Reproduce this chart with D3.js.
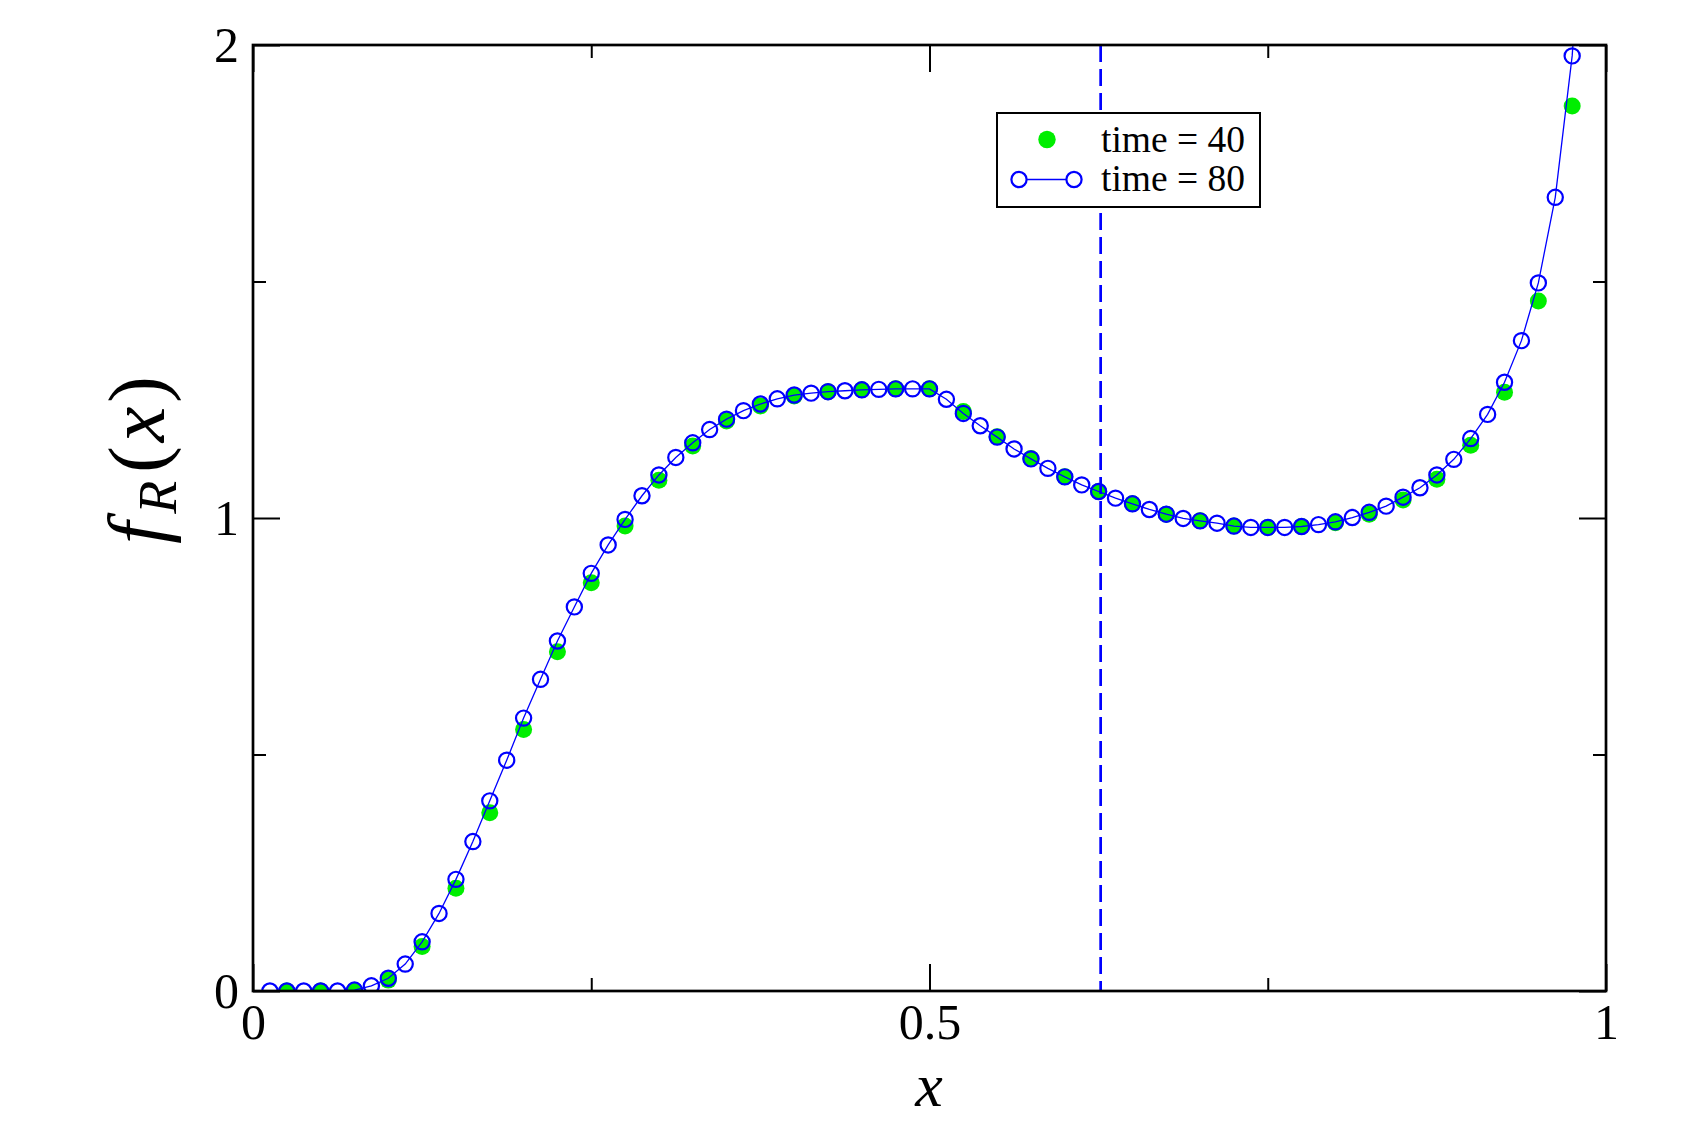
<!DOCTYPE html>
<html>
<head>
<meta charset="utf-8">
<script src="https://cdn.jsdelivr.net/npm/d3@7"></script>
<style>
  html, body { margin: 0; padding: 0; background: #fff; }
  svg { display: block; }
</style>
</head>
<body>
<svg id="chart" width="1704" height="1124"></svg>
<script>
// ---- data ----
// time = 80 : x = k/80, k = 1..79 (last point lies above the plot and is clipped)
const xTime80 = d3.range(1, 80).map(k => k / 80);
const yTime80 = [
  0.000, 0.000, 0.000, 0.000, 0.000, 0.002, 0.011, 0.027, 0.057, 0.104,
  0.164, 0.236, 0.316, 0.402, 0.488, 0.577, 0.659, 0.740, 0.812, 0.883,
  0.943, 0.997, 1.047, 1.091, 1.128, 1.159, 1.187, 1.209, 1.227, 1.241,
  1.252, 1.260, 1.264, 1.267, 1.269, 1.271, 1.272, 1.273, 1.273, 1.273,
  1.251, 1.221, 1.195, 1.171, 1.146, 1.125, 1.105, 1.087, 1.070, 1.056,
  1.042, 1.030, 1.018, 1.008, 0.999, 0.994, 0.989, 0.983, 0.980, 0.980,
  0.980, 0.982, 0.986, 0.992, 1.001, 1.012, 1.025, 1.044, 1.064, 1.091,
  1.124, 1.168, 1.219, 1.287, 1.375, 1.497, 1.678, 1.977, 2.500
];
// time = 40 : x = j/40, j = 1..39
const xTime40 = d3.range(1, 40).map(j => j / 40);
const yTime40 = [
  0.000, 0.000, 0.001, 0.023, 0.094, 0.217, 0.377, 0.553, 0.717, 0.863,
  0.983, 1.080, 1.152, 1.205, 1.237, 1.258, 1.267, 1.271, 1.273, 1.273,
  1.225, 1.172, 1.126, 1.087, 1.056, 1.030, 1.008, 0.994, 0.983, 0.980,
  0.982, 0.990, 1.008, 1.038, 1.082, 1.154, 1.266, 1.459, 1.871
];
const xMajorTicks = [0, 0.5, 1];
const xMinorTicks = [0.25, 0.75];
const yMajorTicks = [0, 1, 2];
const yMinorTicks = [0.5, 1.5];
const markerX = 0.6265;
const seriesLabels = ["time = 40", "time = 80"];

// ---- layout ----
const L = 253, R = 1606, T = 45, B = 991;
const svg = d3.select("#chart");
const x = d3.scaleLinear().domain([0, 1]).range([L, R]);
const y = d3.scaleLinear().domain([0, 2]).range([B, T]);

const FONT = "'Liberation Serif', 'DejaVu Serif', serif";
const BLUE = "#0000ff", GREEN = "#00ee00";

svg.append("defs").append("clipPath").attr("id", "clip")
  .append("rect").attr("x", L).attr("y", T).attr("width", R - L).attr("height", B - T);

// ---- axes ----
function styleAxis(g, labels) {
  g.select(".domain").remove();
  g.selectAll(".tick line").attr("stroke", "#000").attr("stroke-width", 2);
  g.selectAll(".tick text").attr("font-family", FONT).attr("font-size", 50).attr("fill", "#000");
  if (!labels) g.selectAll(".tick text").remove();
}
const fmt = d => (d === 0 ? "0" : d === 1 ? "1" : d === 2 ? "2" : String(d));

svg.append("g").attr("transform", `translate(0,${B})`)
  .call(d3.axisBottom(x).tickValues(xMajorTicks).tickSize(-27).tickPadding(12).tickFormat(fmt))
  .call(g => styleAxis(g, true));
svg.append("g").attr("transform", `translate(0,${B})`)
  .call(d3.axisBottom(x).tickValues(xMinorTicks).tickSize(-13))
  .call(g => styleAxis(g, false));
svg.append("g").attr("transform", `translate(0,${T})`)
  .call(d3.axisTop(x).tickValues(xMajorTicks).tickSize(-27))
  .call(g => styleAxis(g, false));
svg.append("g").attr("transform", `translate(0,${T})`)
  .call(d3.axisTop(x).tickValues(xMinorTicks).tickSize(-13))
  .call(g => styleAxis(g, false));

svg.append("g").attr("transform", `translate(${L},0)`)
  .call(d3.axisLeft(y).tickValues(yMajorTicks).tickSize(-27).tickPadding(14).tickFormat(fmt))
  .call(g => styleAxis(g, true));
svg.append("g").attr("transform", `translate(${L},0)`)
  .call(d3.axisLeft(y).tickValues(yMinorTicks).tickSize(-13))
  .call(g => styleAxis(g, false));
svg.append("g").attr("transform", `translate(${R},0)`)
  .call(d3.axisRight(y).tickValues(yMajorTicks).tickSize(-27))
  .call(g => styleAxis(g, false));
svg.append("g").attr("transform", `translate(${R},0)`)
  .call(d3.axisRight(y).tickValues(yMinorTicks).tickSize(-13))
  .call(g => styleAxis(g, false));

// ---- data layer ----
const plot = svg.append("g").attr("clip-path", "url(#clip)");

const d40 = xTime40.map((v, i) => ({ x: v, y: yTime40[i] }));
const d80 = xTime80.map((v, i) => ({ x: v, y: yTime80[i] }));

plot.selectAll("circle.t40").data(d40).enter().append("circle")
  .attr("class", "t40")
  .attr("cx", d => x(d.x)).attr("cy", d => y(d.y)).attr("r", 8.5)
  .attr("fill", GREEN);

plot.append("line")
  .attr("x1", x(markerX)).attr("x2", x(markerX))
  .attr("y1", y(2)).attr("y2", y(0))
  .attr("stroke", BLUE).attr("stroke-width", 2.7)
  .attr("stroke-dasharray", "17,7");

plot.append("path").datum(d80)
  .attr("fill", "none").attr("stroke", BLUE).attr("stroke-width", 1.3)
  .attr("d", d3.line().x(d => x(d.x)).y(d => y(d.y)));

plot.selectAll("circle.t80").data(d80).enter().append("circle")
  .attr("class", "t80")
  .attr("cx", d => x(d.x)).attr("cy", d => y(d.y)).attr("r", 7.6)
  .attr("fill", "none").attr("stroke", BLUE).attr("stroke-width", 2.2);

// ---- frame ----
svg.append("rect").attr("x", L).attr("y", T).attr("width", R - L).attr("height", B - T)
  .attr("fill", "none").attr("stroke", "#000").attr("stroke-width", 2.7);

// ---- legend ----
const lg = svg.append("g");
lg.append("rect").attr("x", 997).attr("y", 113).attr("width", 263).attr("height", 94)
  .attr("fill", "#fff").attr("stroke", "#000").attr("stroke-width", 2);
lg.append("circle").attr("cx", 1047).attr("cy", 139.5).attr("r", 8.7).attr("fill", GREEN);
lg.append("line").attr("x1", 1019).attr("x2", 1074).attr("y1", 179.5).attr("y2", 179.5)
  .attr("stroke", BLUE).attr("stroke-width", 1.3);
[1019, 1074].forEach(cx => lg.append("circle").attr("cx", cx).attr("cy", 179.5).attr("r", 7.6)
  .attr("fill", "#fff").attr("stroke", BLUE).attr("stroke-width", 2.2));
lg.selectAll("text.lbl").data(seriesLabels).enter().append("text")
  .attr("class", "lbl")
  .attr("x", 1101).attr("y", (d, i) => 152 + i * 38.5)
  .attr("font-family", FONT).attr("font-size", 37.5).attr("fill", "#000")
  .text(d => d);

// ---- axis titles ----
svg.append("text").attr("x", 929).attr("y", 1106).attr("text-anchor", "middle")
  .attr("font-family", FONT).attr("font-style", "italic").attr("font-size", 62)
  .text("x");

const yt = svg.append("text")
  .attr("transform", "translate(164,460) rotate(-90)")
  .attr("text-anchor", "middle")
  .attr("font-family", FONT).attr("font-size", 80).attr("fill", "#000");
yt.append("tspan").attr("font-style", "italic").text("f");
yt.append("tspan").attr("font-style", "italic").attr("font-size", 54).attr("dx", 8).attr("dy", 12).text("R");
yt.append("tspan").attr("dx", 8).attr("dy", -12).text("(");
yt.append("tspan").attr("font-style", "italic").attr("dx", 4).text("x");
yt.append("tspan").attr("dx", 4).text(")");
</script>
</body>
</html>
